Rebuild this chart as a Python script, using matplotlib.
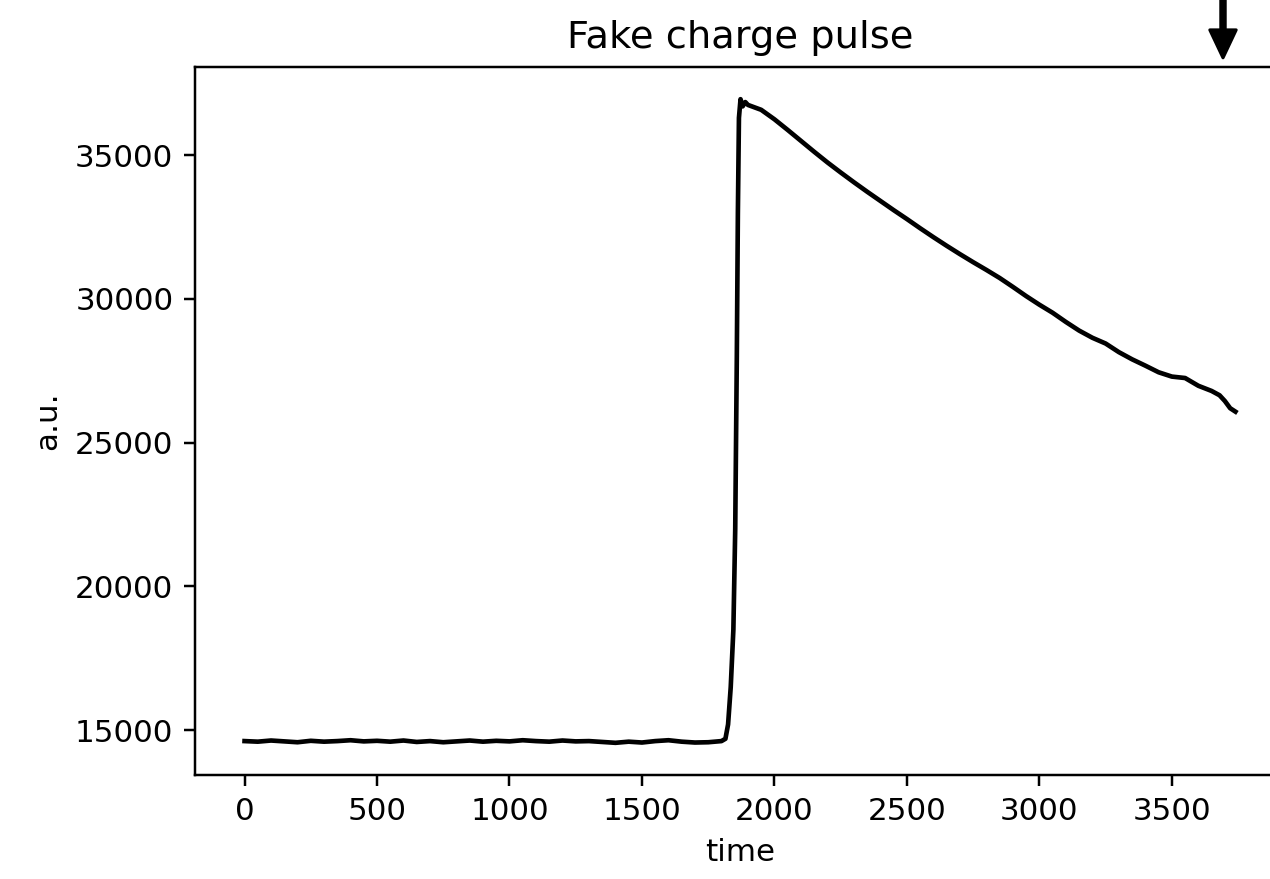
'''
Fake charge pulse plot
'''
import matplotlib
matplotlib.use('Agg')
import matplotlib.pyplot as plt

# baseline before the pulse
time_base = [0, 50, 100, 150, 200, 250, 300, 350, 400, 450, 500, 550, 600, 650, 700,
             750, 800, 850, 900, 950, 1000, 1050, 1100, 1150, 1200, 1250, 1300, 1350,
             1400, 1450, 1500, 1550, 1600, 1650, 1700, 1750, 1800]
value_base = [14620, 14600, 14640, 14610, 14580, 14630, 14600, 14620, 14650, 14610,
              14630, 14600, 14640, 14590, 14620, 14580, 14610, 14640, 14600, 14630,
              14610, 14650, 14620, 14600, 14640, 14610, 14620, 14590, 14560, 14600,
              14570, 14620, 14650, 14600, 14570, 14580, 14620]

# rising edge
time_rise = [1815, 1825, 1835, 1845, 1852, 1858, 1862, 1866, 1872, 1880, 1890]
value_rise = [14700, 15200, 16500, 18500, 22000, 28000, 33000, 36300, 36950, 36700, 36850]

# decay tail
time_tail = [1900, 1950, 2000, 2050, 2100, 2150, 2200, 2250, 2300, 2350, 2400, 2450,
             2500, 2550, 2600, 2650, 2700, 2750, 2800, 2850, 2900, 2950, 3000, 3050,
             3100, 3150, 3200, 3250, 3300, 3350, 3400, 3450, 3500, 3550, 3600, 3650,
             3680, 3700, 3720, 3740]
value_tail = [36750, 36580, 36250, 35880, 35500, 35120, 34750, 34400, 34060, 33730,
              33410, 33090, 32780, 32460, 32150, 31850, 31560, 31280, 31010, 30730,
              30420, 30100, 29800, 29520, 29200, 28900, 28650, 28450, 28150, 27900,
              27680, 27450, 27300, 27250, 26980, 26800, 26650, 26450, 26200, 26080]

arrow_time = 3693

time = time_base + time_rise + time_tail
values = value_base + value_rise + value_tail

dpi = 223
fig = plt.figure(figsize=(1270 / dpi, 879 / dpi), dpi=dpi)
ax = fig.add_axes([195 / 1270, 1 - 775 / 879, (1285 - 195) / 1270, (775 - 67) / 879])

ax.plot(time, values, color='black')
ax.set_title('Fake charge pulse', fontsize=12.4)
ax.set_xlabel('time')
ax.set_ylabel('a.u.')

ax.annotate('', xy=(arrow_time, 1.013), xycoords=('data', 'axes fraction'),
            xytext=(arrow_time, 1.15), textcoords=('data', 'axes fraction'),
            arrowprops=dict(facecolor='black', edgecolor='black', width=1.4,
                            headwidth=8.5, headlength=9, shrink=0),
            annotation_clip=False)

fig.savefig('out.png', dpi=dpi)
